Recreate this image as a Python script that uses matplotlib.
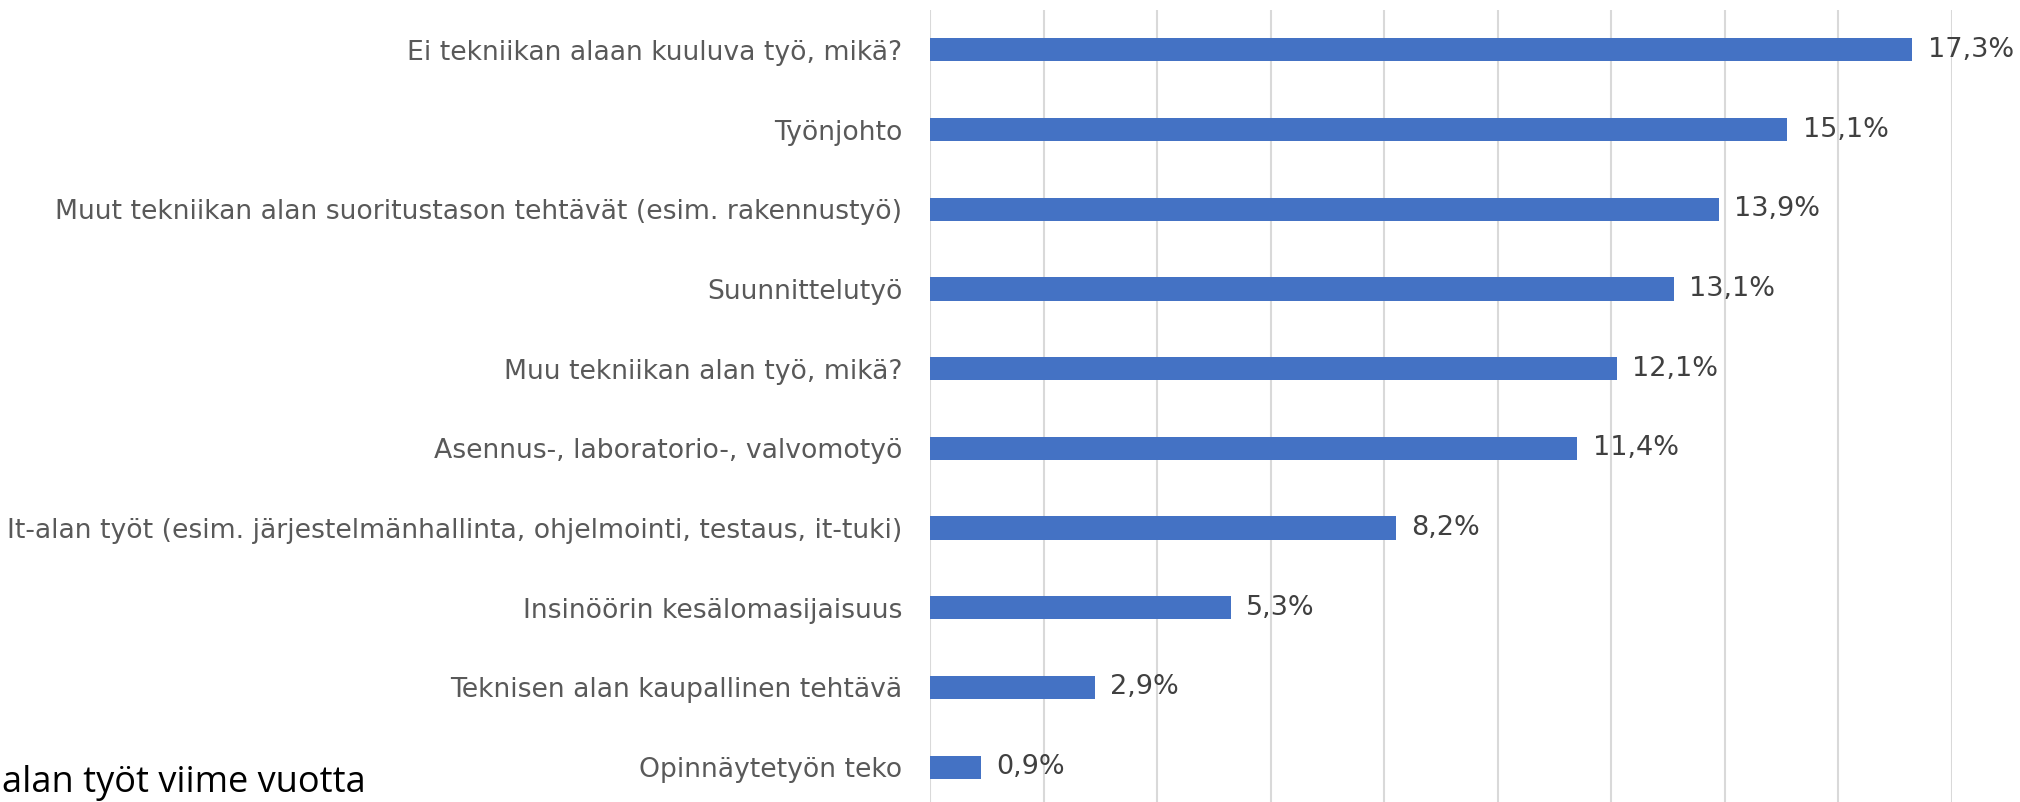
import matplotlib.pyplot as plt

categories = [
    "Ei tekniikan alaan kuuluva työ, mikä?",
    "Työnjohto",
    "Muut tekniikan alan suoritustason tehtävät (esim. rakennustyö)",
    "Suunnittelutyö",
    "Muu tekniikan alan työ, mikä?",
    "Asennus-, laboratorio-, valvomotyö",
    "It-alan työt (esim. järjestelmänhallinta, ohjelmointi, testaus, it-tuki)",
    "Insinöörin kesälomasijaisuus",
    "Teknisen alan kaupallinen tehtävä",
    "Opinnäytetyön teko",
]
values = [17.3, 15.1, 13.9, 13.1, 12.1, 11.4, 8.2, 5.3, 2.9, 0.9]
title = "alan työt viime vuotta"

font = ['DejaVu Sans']

W, H = 2020, 802
fig = plt.figure(figsize=(W / 100, H / 100), dpi=100)
# plot area: x from 930 px to 1952 px, y from 10 px to ~807 px (cropped at bottom)
ax = fig.add_axes([930 / W, 1 - 807 / H, (1952 - 930) / W, 797 / H])

y = range(len(categories))
ax.barh(y, values, height=0.29, color='#4472C4', zorder=3)

for i, v in enumerate(values):
    ax.annotate(f"{v:.1f}%".replace('.', ','), (v, i), xytext=(11, 0),
                textcoords='offset points', va='center', ha='left',
                fontsize=19.5, color='#404040', family=font)

ax.set_xlim(0, 18)
ax.set_ylim(len(categories) - 0.5, -0.5)
ax.set_xticks(range(0, 19, 2))
ax.set_xticklabels([])
ax.set_yticks(list(y))
ax.set_yticklabels(categories, fontsize=19.2, color='#595959', family=font)
ax.tick_params(axis='both', length=0)
ax.tick_params(axis='y', pad=20)
ax.grid(axis='x', color='#d9d9d9', linewidth=1.5, zorder=0)
for s in ax.spines.values():
    s.set_visible(False)

# title is cropped in the source; keep it fully inside the figure
fig.text(2 / W, 1 / H, title, ha='left', va='bottom', fontsize=26,
         color='black', family=['Open Sans', 'DejaVu Sans'])

fig.savefig('out.png', dpi=100)
